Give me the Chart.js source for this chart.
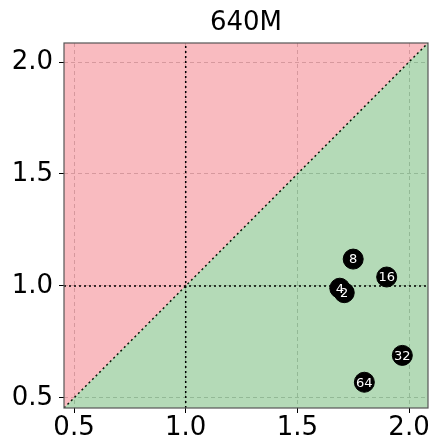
<!DOCTYPE html>
<html>
<head>
<meta charset="utf-8">
<script src="https://cdn.jsdelivr.net/npm/chart.js@4"></script>
<style>
  body { margin: 0; background: #fff; }
</style>
</head>
<body>
<canvas id="myChart" width="432" height="441"></canvas>
<script>
const title = '640M';
const labels = ['8', '16', '4', '2', '32', '64'];
const xValues = [1.75, 1.90, 1.69, 1.71, 1.97, 1.80];
const yValues = [1.12, 1.04, 0.99, 0.97, 0.69, 0.57];
const tickValues = [0.5, 1.0, 1.5, 2.0];
const axisMin = 0.455;
const axisMax = 2.085;

const points = xValues.map((x, i) => ({ x: x, y: yValues[i] }));
const diag = [{ x: axisMin, y: axisMin }, { x: axisMax, y: axisMax }];

// frame round the plot + white labels on the markers
const extras = {
  id: 'extras',
  afterDatasetsDraw(chart) {
    const ctx = chart.ctx;
    const meta = chart.getDatasetMeta(4);
    ctx.save();
    ctx.fillStyle = '#fff';
    ctx.font = '13px "DejaVu Sans"';
    ctx.textAlign = 'center';
    ctx.textBaseline = 'middle';
    meta.data.forEach((el, i) => ctx.fillText(labels[i], el.x, el.y + 1));
    const a = chart.chartArea;
    ctx.strokeStyle = '#555';
    ctx.lineWidth = 1.2;
    ctx.strokeRect(a.left, a.top, a.right - a.left, a.bottom - a.top);
    ctx.restore();
  }
};

function axis(pad) {
  return {
    type: 'linear',
    min: axisMin,
    max: axisMax,
    afterBuildTicks: s => { s.ticks = tickValues.map(v => ({ value: v })); },
    ticks: {
      color: '#000',
      font: { family: 'DejaVu Sans', size: 26 },
      callback: v => v.toFixed(1),
      padding: pad
    },
    grid: { color: 'rgba(170,170,170,0.6)', tickColor: '#000', tickLength: 5 },
    border: { display: false, dash: [4, 3] }
  };
}

const xAxis = axis(0);
xAxis.afterFit = s => { s.height = 33; s.paddingLeft = 0; s.paddingRight = 0; };
const yAxis = axis(6);
yAxis.afterFit = s => { s.width = 64; s.paddingTop = 0; s.paddingBottom = 0; };

new Chart(document.getElementById('myChart'), {
  type: 'scatter',
  data: {
    datasets: [
      { data: diag, showLine: true, fill: 'end', backgroundColor: 'rgba(235,30,45,0.3)',
        borderColor: '#000', borderWidth: 1.5, borderDash: [2, 3], pointRadius: 0, order: 3 },
      { data: diag, showLine: true, fill: 'start', backgroundColor: 'rgba(40,150,50,0.35)',
        borderWidth: 0, pointRadius: 0, order: 2 },
      { data: [{ x: 1, y: axisMin }, { x: 1, y: axisMax }], showLine: true, borderColor: '#000',
        borderWidth: 1.5, borderDash: [2, 3], pointRadius: 0, order: 1 },
      { data: [{ x: axisMin, y: 1 }, { x: axisMax, y: 1 }], showLine: true, borderColor: '#000',
        borderWidth: 1.5, borderDash: [2, 3], pointRadius: 0, order: 1 },
      { data: points, backgroundColor: '#000', borderColor: '#000', pointRadius: 10, order: 0 }
    ]
  },
  options: {
    responsive: false,
    animation: false,
    layout: { autoPadding: false, padding: { top: 0, right: 4, left: 0, bottom: 0 } },
    plugins: {
      legend: { display: false },
      tooltip: { enabled: false },
      title: {
        display: true, text: title, color: '#000', fullSize: false,
        font: { family: 'DejaVu Sans', size: 26, weight: 'normal' },
        padding: { top: 7.5, bottom: 4.3 }
      }
    },
    scales: { x: xAxis, y: yAxis }
  },
  plugins: [extras]
});
</script>
</body>
</html>
